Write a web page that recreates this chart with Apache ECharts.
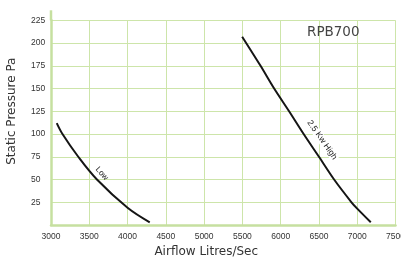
<!DOCTYPE html>
<html>
<head>
<meta charset="utf-8">
<script src="https://cdn.jsdelivr.net/npm/echarts@6/dist/echarts.min.js"></script>
<style>
html,body{margin:0;padding:0;background:#fff;}
#c{width:401px;height:257px;}
</style>
</head>
<body>
<div id="c"></div>
<script>
// Tick values
const xTicks = [3000, 3500, 4000, 4500, 5000, 5500, 6000, 6500, 7000, 7500];
const yTicks = [25, 50, 75, 100, 125, 150, 175, 200, 225];

// "Low" curve
const lowX = [3075, 3150, 3356, 3600, 4000, 4290];
const lowY = [112, 100, 75, 50, 19, 3];

// "2.5 Kw High" curve
const highX = [5497, 5737, 5915, 6110, 6300, 6500, 6698, 6925, 7000, 7177];
const highY = [207, 175, 150, 125, 100, 75, 50, 25, 18, 3];

const title = 'RPB700';
const xName = 'Airflow Litres/Sec';
const yName = 'Static Pressure Pa';
const lowName = 'Low';
const highName = '2.5 Kw High';

const gridCol = '#cde5aa';
const axisCol = '#c6e0a0';
const lowData = lowX.map((x, i) => [x, lowY[i]]);
const highData = highX.map((x, i) => [x, highY[i]]);

const chart = echarts.init(document.getElementById('c'), null, {renderer: 'canvas'});
const option = {
  animation: false,
  backgroundColor: '#fff',
  grid: {left: 51, right: 5.5, top: 20.3, bottom: 32, outerBoundsMode: 'none'},
  xAxis: {
    type: 'value',
    min: xTicks[0], max: xTicks[xTicks.length - 1], interval: xTicks[1] - xTicks[0],
    name: xName, nameLocation: 'middle', nameGap: 16,
    nameTextStyle: {fontFamily: 'DejaVu Sans', fontSize: 12, color: '#333', padding: [0, 34, 0, 0]},
    axisLine: {show: true, lineStyle: {color: axisCol, width: 2.5}},
    axisTick: {show: false},
    axisLabel: {fontFamily: 'Liberation Sans', fontSize: 8.5, color: '#333', margin: 7,
      showMinLabel: true, showMaxLabel: true, alignMaxLabel: 'center', hideOverlap: false,
      formatter: v => String(v)},
    splitLine: {show: true, lineStyle: {color: gridCol, width: 1}}
  },
  yAxis: {
    type: 'value',
    min: 0, max: yTicks[yTicks.length - 1], interval: yTicks[1] - yTicks[0],
    name: yName, nameLocation: 'middle', nameGap: 33, nameRotate: 90,
    nameTextStyle: {fontFamily: 'DejaVu Sans', fontSize: 12, color: '#333', padding: [0, 0, 0, 23]},
    axisLine: {show: true, lineStyle: {color: axisCol, width: 2.5}},
    axisTick: {show: false},
    axisLabel: {
      fontFamily: 'Liberation Sans', fontSize: 8.5, color: '#333', margin: 20, align: 'left',
      padding: [0, 0, 5, 0],
      formatter: v => yTicks.includes(v) ? String(v) : ''
    },
    splitLine: {show: true, lineStyle: {color: gridCol, width: 1}}
  },
  series: [
    {
      type: 'line', name: lowName, data: lowData, showSymbol: false, smooth: 0.35,
      lineStyle: {color: '#151515', width: 2}, z: 3,
      markPoint: {
        symbol: 'circle', symbolSize: 0, silent: true,
        data: [{coord: [3665, 56.5]}],
        label: {show: true, position: 'inside', formatter: lowName, rotate: -48,
          fontFamily: 'Liberation Sans', fontSize: 8, color: '#222'}
      }
    },
    {
      type: 'line', name: highName, data: highData, showSymbol: false, smooth: 0.3,
      lineStyle: {color: '#151515', width: 2}, z: 3,
      markPoint: {
        symbol: 'circle', symbolSize: 0, silent: true,
        data: [{coord: [6541, 93.5]}],
        label: {show: true, position: 'inside', formatter: highName, rotate: -55,
          fontFamily: 'Liberation Sans', fontSize: 8.5, color: '#222', backgroundColor: '#fff', padding: [0, 1]}
      }
    }
  ]
};
chart.setOption(option);

const pTop = chart.convertToPixel({gridIndex: 0}, [xTicks[0], yTicks[yTicks.length - 1]]);
chart.setOption({
  graphic: [
    {type: 'line', shape: {x1: pTop[0], y1: pTop[1], x2: pTop[0], y2: pTop[1] - 10}, style: {stroke: axisCol, lineWidth: 2.5}, silent: true},
    {type: 'text', left: 307, top: 25.5, style: {text: title, fontFamily: 'DejaVu Sans', fontSize: 13.5, fill: '#444'}}
  ]
});
</script>
</body>
</html>
